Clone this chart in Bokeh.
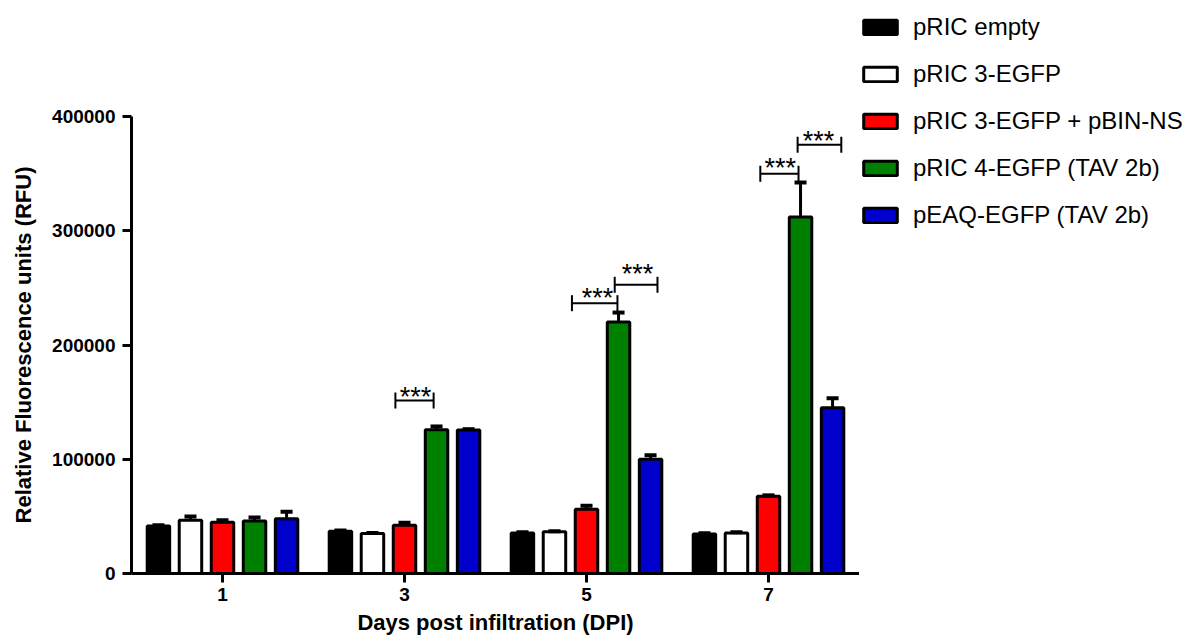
from bokeh.plotting import figure
from bokeh.layouts import row
from bokeh.models import (ColumnDataSource, FixedTicker, Range1d, Legend, LegendItem,
                          NumeralTickFormatter)
from bokeh.core.properties import value
from bokeh.embed import file_html
from bokeh.resources import INLINE

# ---------------- data ----------------
days = [1, 3, 5, 7]
day_labels = ["1", "3", "5", "7"]

series_names = ["pRIC empty", "pRIC 3-EGFP", "pRIC 3-EGFP + pBIN-NS",
                "pRIC 4-EGFP (TAV 2b)", "pEAQ-EGFP (TAV 2b)"]
series_colors = ["#000000", "#FFFFFF", "#FF0000", "#008000", "#0000CC"]

empty_vals = [41500, 37000, 35500, 34500]
empty_err = [700, 700, 700, 700]
egfp3_vals = [46500, 35000, 36500, 35500]
egfp3_err = [3300, 500, 500, 500]
egfp3_ns_vals = [44800, 42200, 56200, 67600]
egfp3_ns_err = [1800, 2300, 3100, 800]
egfp4_vals = [46000, 125900, 220100, 312000]
egfp4_err = [3000, 2800, 8300, 30200]
peaq_vals = [48000, 125500, 100000, 145100]
peaq_err = [6000, 800, 3500, 8300]

all_vals = [empty_vals, egfp3_vals, egfp3_ns_vals, egfp4_vals, peaq_vals]
all_errs = [empty_err, egfp3_err, egfp3_ns_err, egfp4_err, peaq_err]

y_ticks = [0, 100000, 200000, 300000, 400000]

# significance annotations (in axis units)
bracket_x0 = [2.90, 4.84, 5.31, 6.91, 7.32]
bracket_x1 = [3.32, 5.34, 5.78, 7.33, 7.80]
bracket_y = [151400, 236600, 252700, 349900, 375200]
star_x = [3.12, 5.12, 5.56, 7.13, 7.55]
star_y = [158900, 245300, 266100, 359100, 382500]
star_text = ["***", "***", "***", "***", "***"]

# ---------------- styling ----------------
slot = 0.352
bar_w = 0.247
cap_half = 0.066
tick_half = 7000
FONT = "Liberation Sans"

p = figure(width=859, height=643, output_backend="svg", toolbar_location=None,
           x_range=Range1d(0, 8), y_range=Range1d(0, 400000),
           min_border_left=131, min_border_right=0, min_border_top=116,
           min_border_bottom=70)
p.outline_line_color = None
p.grid.visible = False
p.background_fill_color = "white"
p.border_fill_color = "white"

# legend panel (separate figure to the right of the plot)
pl = figure(width=338, height=643, output_backend="svg", toolbar_location=None,
            x_range=Range1d(0, 8), y_range=Range1d(0, 400000),
            min_border=0, min_border_left=0, min_border_right=0,
            min_border_top=0, min_border_bottom=0)
pl.axis.visible = False
pl.grid.visible = False
pl.outline_line_color = None
pl.background_fill_color = "white"
pl.border_fill_color = "white"
try:
    p.frame_align = False
    pl.frame_align = False
except Exception:
    pass

leg_renderers = []
for i, (vals, errs, col) in enumerate(zip(all_vals, all_errs, series_colors)):
    xs = [d + (i - 2) * slot for d in days]
    src = ColumnDataSource(dict(
        x=xs, top=vals,
        etop=[v + e for v, e in zip(vals, errs)],
        cx0=[x - cap_half for x in xs], cx1=[x + cap_half for x in xs]))
    p.vbar(x="x", top="top", bottom=0, width=bar_w, source=src,
           fill_color=col, line_color="black", line_width=3)
    # same series in the legend panel: hidden, only its legend swatch is shown
    lr = pl.vbar(x="x", top="top", bottom=0, width=bar_w, source=src,
                 fill_color=col, line_color="black", line_width=3)
    lr.visible = False
    leg_renderers.append(lr)
    p.segment(x0="x", y0="top", x1="x", y1="etop", source=src,
              line_color="black", line_width=3)
    p.segment(x0="cx0", y0="etop", x1="cx1", y1="etop", source=src,
              line_color="black", line_width=4)

# brackets
bsrc = ColumnDataSource(dict(
    x0=bracket_x0, x1=bracket_x1, y=bracket_y,
    ylo=[y - tick_half for y in bracket_y], yhi=[y + tick_half for y in bracket_y]))
p.segment(x0="x0", y0="y", x1="x1", y1="y", source=bsrc, line_color="black", line_width=2)
p.segment(x0="x0", y0="ylo", x1="x0", y1="yhi", source=bsrc, line_color="black", line_width=2)
p.segment(x0="x1", y0="ylo", x1="x1", y1="yhi", source=bsrc, line_color="black", line_width=2)
ssrc = ColumnDataSource(dict(x=star_x, y=star_y, t=star_text))
p.text(x="x", y="y", text="t", source=ssrc, text_font=value(FONT),
       text_font_size="27px", text_align="center", text_baseline="alphabetic",
       y_offset=5, text_color="black")

# axes
for ax in (p.xaxis[0], p.yaxis[0]):
    ax.axis_line_width = 3
    ax.axis_line_color = "black"
    ax.major_tick_line_width = 3
    ax.major_tick_line_color = "black"
    ax.major_tick_out = 9
    ax.major_tick_in = 0
    ax.minor_tick_line_color = None
    ax.major_label_text_font = FONT
    ax.major_label_text_font_style = "bold"
    ax.major_label_text_font_size = "19px"
    ax.major_label_text_color = "black"
    ax.axis_label_text_font = FONT
    ax.axis_label_text_font_style = "bold"
    ax.axis_label_text_font_size = "22px"
    ax.axis_label_text_color = "black"

p.xaxis.ticker = FixedTicker(ticks=days)
p.xaxis.major_label_overrides = {d: l for d, l in zip(days, day_labels)}
p.xaxis.axis_label = "Days post infiltration (DPI)"
p.xaxis.major_label_standoff = 5
p.xaxis.axis_label_standoff = 6

p.yaxis.ticker = FixedTicker(ticks=y_ticks)
p.yaxis.formatter = NumeralTickFormatter(format="0")
p.yaxis.axis_label = "Relative Fluorescence units (RFU)"
p.yaxis.major_label_standoff = 7
p.yaxis.axis_label_standoff = 13

legend = Legend(items=[LegendItem(label=n, renderers=[r]) for n, r in zip(series_names, leg_renderers)],
                location=(0, 414), orientation="vertical",
                background_fill_alpha=0, border_line_color=None,
                inactive_fill_alpha=0,
                padding=0, margin=0, spacing=19,
                glyph_width=42, glyph_height=18, label_height=18,
                label_standoff=12, label_text_font=FONT,
                label_text_font_size="24px", label_text_color="black")
pl.add_layout(legend)

layout = row(p, pl, spacing=0)
open("out.html", "w").write(file_html(layout, INLINE))
